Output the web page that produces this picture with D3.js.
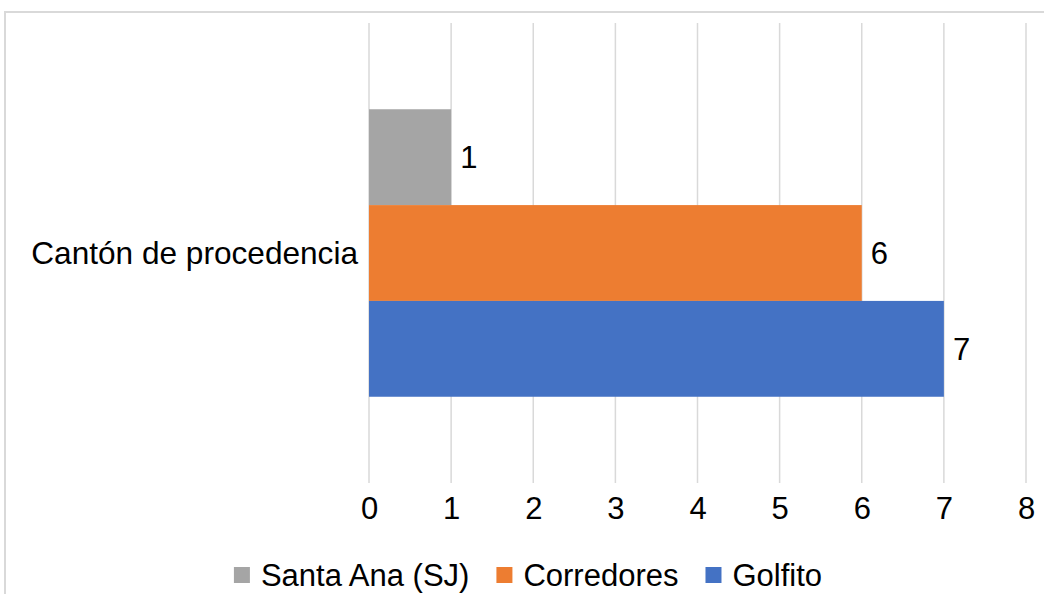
<!DOCTYPE html>
<html>
<head>
<meta charset="utf-8">
<script src="https://cdn.jsdelivr.net/npm/d3@7"></script>
<style>
  html, body { margin: 0; padding: 0; background: #fff; }
  svg { display: block; }
  text { font-family: "Liberation Sans", Arial, sans-serif; fill: #000; }
</style>
</head>
<body>
<svg id="chart" width="1044" height="594"></svg>
<script>
const categories = ["Cantón de procedencia"];
const seriesNames = ["Santa Ana (SJ)", "Corredores", "Golfito"];
const seriesValues = [1, 6, 7];
const seriesColors = ["#A5A5A5", "#ED7D31", "#4472C4"];
const xTicks = [0, 1, 2, 3, 4, 5, 6, 7, 8];

const svg = d3.select("#chart");
const W = 1044, H = 594;

// chart border
svg.append("rect")
  .attr("x", 5).attr("y", 12)
  .attr("width", W + 20).attr("height", H + 20)
  .attr("fill", "none").attr("stroke", "#d9d9d9").attr("stroke-width", 2);

const plot = { left: 369, right: 1026, top: 23, bottom: 483 };

const x = d3.scaleLinear().domain([0, 8]).range([plot.left, plot.right]);
const y = d3.scaleBand().domain(categories).range([plot.top, plot.bottom])
  .paddingInner(0).paddingOuter(0.3);
const ys = d3.scaleBand().domain(seriesNames).range([0, y.bandwidth()]).padding(0);

// gridlines
svg.append("g").selectAll("line").data(xTicks).join("line")
  .attr("x1", d => x(d)).attr("x2", d => x(d))
  .attr("y1", plot.top).attr("y2", plot.bottom)
  .attr("stroke", "#d9d9d9").attr("stroke-width", 1.5);

// x axis tick labels
const xAxis = d3.axisBottom(x).tickValues(xTicks).tickSize(0).tickPadding(0).tickFormat(d3.format("d"));
const gx = svg.append("g").attr("transform", `translate(0,${plot.bottom})`).call(xAxis);
gx.select(".domain").remove();
gx.selectAll("text")
  .attr("y", 36).attr("dy", null)
  .style("font-size", "31px")
  .style("font-family", "'Liberation Sans', Arial, sans-serif")
  .attr("fill", "#000");

// category label
svg.append("g").selectAll("text").data(categories).join("text")
  .attr("x", 358)
  .attr("y", d => y(d) + y.bandwidth() / 2)
  .attr("dy", "0.35em")
  .attr("text-anchor", "end")
  .style("font-size", "31.6px")
  .text(d => d);

// bars
const rows = seriesNames.map((n, i) => ({ name: n, value: seriesValues[i], color: seriesColors[i], cat: categories[0] }));
svg.append("g").selectAll("rect").data(rows).join("rect")
  .attr("x", x(0))
  .attr("y", d => y(d.cat) + ys(d.name))
  .attr("width", d => x(d.value) - x(0))
  .attr("height", ys.bandwidth())
  .attr("fill", d => d.color);

// data labels
svg.append("g").selectAll("text").data(rows).join("text")
  .attr("x", d => x(d.value) + 9)
  .attr("y", d => y(d.cat) + ys(d.name) + ys.bandwidth() / 2)
  .attr("dy", "0.35em")
  .style("font-size", "31px")
  .text(d => d.value);

// legend
const legend = svg.append("g");
const legendY = 575;
const items = [];
rows.forEach(d => {
  const g = legend.append("g");
  g.append("rect").attr("x", 0).attr("y", legendY - 8).attr("width", 16).attr("height", 16).attr("fill", d.color);
  const t = g.append("text").attr("x", 27).attr("y", legendY).attr("dy", "0.35em")
    .style("font-size", "31px").text(d.name);
  const w = 27 + t.node().getComputedTextLength();
  items.push({ g, w });
});
const gap = 27;
const total = items.reduce((s, it) => s + it.w, 0) + gap * (items.length - 1);
let start = 528 - total / 2;
items.forEach(it => {
  it.g.attr("transform", `translate(${start},0)`);
  start += it.w + gap;
});
</script>
</body>
</html>
